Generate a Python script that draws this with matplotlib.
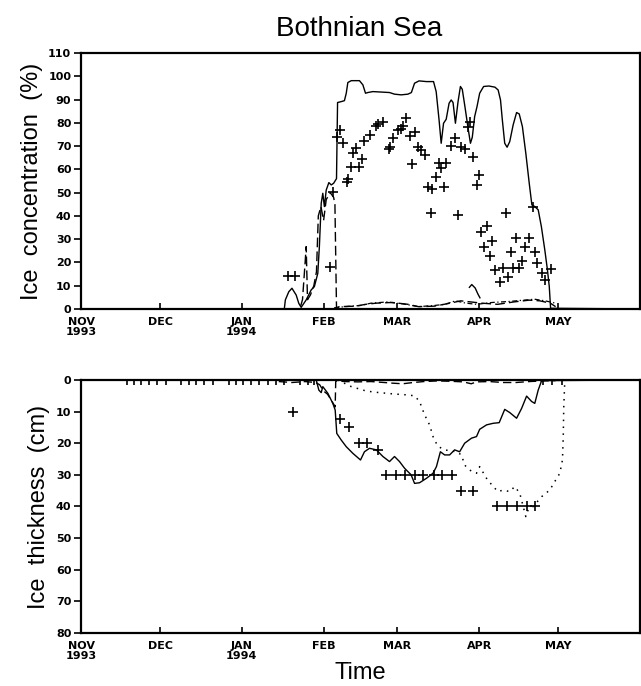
import matplotlib
matplotlib.use("Agg")
import matplotlib.pyplot as plt

# dagen sinds 1 nov 1993
month_days = [0, 30, 61, 92, 120, 151, 181]
month_labels = ['NOV\n1993', 'DEC', 'JAN\n1994', 'FEB', 'MAR', 'APR', 'MAY']

# --- bovenste paneel: ijsbedekking (%) ---
conc_day = [0, 77.1, 77.5, 78.8, 80.0, 81.6, 82.6, 83.5, 85.4, 87.3, 88.5, 89.8, 90.4,
            91.1, 91.7, 92.3, 93.0, 94.0, 94.9, 95.8, 96.9, 97.3, 98.7, 99.9, 100.6,
            101.2, 102.5, 105.6, 106.9, 107.9, 108.8, 110.7, 117.0, 118.9, 121.4, 124.0,
            125.3, 126.5, 128.2, 131.0, 133.7, 134.7, 135.8, 136.6, 137.5, 138.5, 139.6,
            140.4, 141.1, 142.0, 143.0, 143.9, 144.6, 145.6, 146.8, 147.7, 148.4, 149.3,
            150.2, 151.2, 152.7, 154.7, 157.0, 158.2, 159.1, 159.8, 160.7, 161.6, 162.6,
            163.9, 165.2, 166.2, 167.4, 168.7, 170.0, 171.0, 172.1, 173.4, 174.6, 175.9,
            176.9, 177.6, 178.1, 212]
conc_val = [0, 0, 3.9, 7.4, 8.9, 6.0, 2.4, 0.7, 3.9, 8.2, 9.6, 15.3, 26.8,
            45.4, 49.7, 44.0, 51.1, 54.3, 53.3, 54.0, 56.0, 88.7, 89.1, 89.5, 92.7,
            97.3, 98.1, 98.1, 96.3, 92.7, 93.0, 93.4, 93.0, 92.3, 92.0, 92.3,
            93.0, 97.0, 98.0, 97.7, 97.7, 93.4, 81.2, 71.2, 79.8, 81.5, 88.4,
            89.8, 88.7, 79.8, 89.1, 95.6, 94.4, 87.0, 77.7, 71.2, 73.8, 82.7,
            87.0, 92.7, 95.6, 95.8, 95.3, 94.1, 89.8, 81.2, 71.2, 69.5, 71.9,
            79.1, 84.4, 83.8, 78.4, 66.9, 54.0, 44.7, 44.0, 42.6, 35.4, 25.4,
            16.8, 9.6, 0.3, 0]

dash_day = [0, 83.0, 84.0, 85.0, 85.4, 85.9, 87.0, 88.3, 89.3, 90.0, 91.0, 92.0, 93.0,
            94.5, 95.8, 96.3, 96.9, 98, 104, 108, 112, 118, 124, 128, 134, 140, 144,
            148, 152, 158, 164, 170, 174, 178, 180]
dash_val = [0, 0, 4, 20, 26.8, 4, 6, 10, 16, 40, 44, 38, 47,
            50, 48, 45, 0.5, 1.0, 1.2, 2.0, 2.5, 2.8, 2.0, 1.0, 1.2, 2.5, 3.5,
            3.0, 2.5, 2.0, 3.0, 3.8, 3.5, 2.5, 1.0]

dd_day = [96, 100, 106, 110, 116, 122, 128, 134, 138, 142, 146, 150, 156, 162, 168,
          172, 176, 180]
dd_val = [0.5, 1.0, 1.5, 2.5, 3.0, 2.2, 1.0, 1.5, 2.0, 3.5, 2.5, 2.0, 2.8, 3.2, 3.8,
          4.2, 3.5, 2.5]

bump_day = [147.3, 148.2, 149.5, 150.5, 151.3]
bump_val = [9.3, 10.5, 9.0, 6.5, 4.8]

obs_conc_day = [78.4, 81.3, 94.5, 95.5, 97.0, 98.3, 99.5, 101.0, 101.4, 102.5, 105.4,
                103.3, 104.4, 106.5, 107.5, 109.7, 112.0, 112.6, 114.7, 116.8, 117.2,
                118.5, 120.2, 121.5, 122.3, 123.4, 124.6, 125.6, 126.5, 127.8, 129.1,
                130.3, 131.6, 133.2, 132.9, 134.5, 135.8, 136.7, 138.6, 137.6, 140.5,
                141.7, 144.3, 145.5, 143.0, 146.8, 147.4, 148.7, 151.0, 150.0, 151.6,
                153.8, 152.7, 155.0, 156.0, 157.2, 158.8, 160.1, 161.1, 162.0, 162.9,
                163.9, 164.9, 166.2, 167.1, 168.3, 170.0, 171.5, 172.1, 173.0, 174.7,
                175.9, 178.1]
obs_conc_val = [14.2, 14.2, 18.2, 50.4, 73.8, 76.9, 71.2, 54.5, 55.8, 60.9, 60.9,
                67.2, 69.1, 64.3, 72.2, 74.8, 78.5, 79.5, 80.5, 68.6, 69.8,
                73.4, 76.9, 77.5, 78.7, 82.0, 74.4, 62.3, 76.2, 69.8, 68.1,
                66.2, 52.6, 51.4, 41.1, 56.6, 62.6, 60.5, 62.6, 52.6, 70.1,
                73.4, 69.5, 68.6, 40.4, 78.4, 80.5, 65.2, 57.6, 53.3, 33.2,
                35.7, 26.5, 22.8, 29.4, 16.8, 11.7, 17.5, 41.1, 13.6, 24.6,
                17.5, 30.4, 17.5, 20.8, 26.5, 30.4, 44.0, 24.6, 19.6, 15.6,
                12.5, 17.0]

# --- onderste paneel: ijsdikte (cm) ---
thick_day = [0, 89.2, 90.2, 91.1, 91.7, 93.6, 95.5, 96.4, 97.0, 98.7, 100.6, 103.1,
             106.0, 107.5, 109.4, 112.0, 114.5, 117.0, 118.9, 120.8, 122.7, 125.2, 126.5,
             128.4, 131.0, 133.5, 134.8, 136.3, 137.9, 139.8, 141.7, 143.6, 145.5, 148.1,
             150.0, 151.2, 153.8, 156.3, 158.6, 160.7, 162.6, 165.2, 167.1, 169.0, 170.9,
             172.1, 173.4, 174.7, 212]
thick_val = [0, 0, 3.2, 4.0, 2.1, 4.2, 7.4, 9.5, 16.9, 19.0, 21.1, 23.2,
             25.3, 22.7, 21.6, 22.1, 24.2, 25.8, 24.2, 25.8, 27.9, 30.0, 32.7,
             32.5, 31.1, 29.5, 27.4, 22.7, 23.7, 23.7, 22.1, 22.7, 20.0, 18.4,
             17.9, 15.6, 14.2, 13.7, 13.5, 9.3, 10.3, 12.1, 9.0, 5.1, 6.8,
             7.4, 3.2, 0.2, 0]

dot_day = [97.4, 102.5, 108.2, 112.0, 118.3, 123.4, 126.5, 128.4, 130.3, 132.2, 133.7,
           135.4, 137.9, 142.4, 144.3, 145.5, 147.4, 150.0, 151.2, 153.8, 156.3, 158.2,
           160.1, 162.6, 164.5, 166.4, 168.7, 169.6, 171.5, 174.7, 177.8, 179.7, 181.6,
           182.6, 182.9, 183.1, 183.5]
dot_val = [0, 2.1, 3.5, 3.9, 4.4, 4.7, 5.0, 6.8, 11, 14.2, 18.4,
           21, 22.1, 22.7, 23.7, 26.9, 28.5, 29.5, 27.4, 31.1, 33.7, 35.3,
           34.8, 35.3, 33.7, 35.8, 43.2, 41, 40, 36.9, 34.8, 32.1, 29.5,
           25.3, 17.9, 8.4, 0]

bd_day = [75, 80, 85, 89, 90.5, 92, 93.5, 95, 96.4, 96.6, 97, 100, 105, 110, 115, 118,
          122, 126, 130, 135, 140, 145, 148, 150, 155, 160, 165, 170, 175, 180]
bd_val = [0.5, 0.8, 0.5, 0.8, 1.5, 3.5, 4.5, 6.5, 8.5, 0.5, 0.3, 0.5, 0.6, 0.5, 0.8, 1.0,
          1.2, 0.8, 0.5, 0.3, 0.4, 0.6, 1.2, 0.6, 0.5, 0.8, 0.8, 0.5, 0.3, 0.2]

obs_th_day = [17.6, 20.1, 22.7, 25.8, 29.0, 32.2, 37.9, 41.0, 43.6, 46.7, 49.9, 56.2,
              58.8, 61.3, 64.5, 67.6, 70.8, 74.0, 77.1, 83.0, 86.0, 88.5,
              80.5, 98.4, 101.6, 105.6, 108.4, 112.8, 115.5, 119.6, 122.7, 126.5, 129.7,
              133.7, 136.9, 140.8, 144.1, 148.8, 157.8, 161.7, 165.2, 169.0, 172.1,
              175.3, 178.8, 182.6]
obs_th_val = [0] * 22 + [10, 12.3, 15, 20, 20, 22, 30, 30, 30, 30, 30,
                         30, 30, 30, 35, 35, 40, 40, 40, 40, 40, 0, 0, 0]

label_font = 'Liberation Sans'
tick_font = {'family': 'DejaVu Sans', 'weight': 'bold', 'size': 8}

fig = plt.figure(figsize=(6.41, 6.86), dpi=100)
ax1 = fig.add_axes([0.1264, 0.5496, 0.872, 0.3732])
ax2 = fig.add_axes([0.1264, 0.0773, 0.872, 0.3688])

# bovenste paneel
ax1.plot(conc_day, conc_val, color='black', lw=1.0)
ax1.plot(dash_day, dash_val, color='black', lw=1.0, ls=(0, (7, 3)))
ax1.plot(dd_day, dd_val, color='black', lw=0.9, ls=(0, (4, 2, 1, 2)))
ax1.plot(bump_day, bump_val, color='black', lw=1.0)
ax1.plot(obs_conc_day, obs_conc_val, ls='none', marker='+', ms=7, mew=1.2, color='black')
ax1.set_ylim(0, 110)
ax1.set_yticks(range(0, 111, 10))
ax1.set_ylabel('Ice  concentration  (%)', family=label_font, fontsize=17, labelpad=4)

# onderste paneel
ax2.plot(thick_day, thick_val, color='black', lw=1.0)
ax2.plot(dot_day, dot_val, color='black', lw=1.1, ls=(0, (1, 3.5)))
ax2.plot(bd_day, bd_val, color='black', lw=1.0, ls=(0, (6, 3)))
ax2.plot(obs_th_day, obs_th_val, ls='none', marker='+', ms=7, mew=1.2, color='black')
ax2.set_ylim(80, 0)
ax2.set_yticks(range(0, 81, 10))
ax2.set_ylabel('Ice  thickness  (cm)', family=label_font, fontsize=17, labelpad=4)
ax2.set_xlabel('Time', family=label_font, fontsize=17, labelpad=1)

for ax in (ax1, ax2):
    ax.set_xlim(0, 212)
    ax.set_xticks(month_days)
    ax.set_xticklabels(month_labels, fontdict=tick_font, linespacing=0.95)
    for lab in ax.get_yticklabels():
        lab.set_fontproperties(matplotlib.font_manager.FontProperties(**tick_font))
    ax.tick_params(axis='x', direction='in', length=4, width=1.2, pad=6)
    ax.tick_params(axis='y', direction='out', length=5, width=1.2, pad=2)
    for sp in ax.spines.values():
        sp.set_linewidth(1.6)

fig.text(0.56, 0.958, 'Bothnian Sea', family=label_font, fontsize=20,
         ha='center', va='center')

fig.savefig('out.png', dpi=100)
